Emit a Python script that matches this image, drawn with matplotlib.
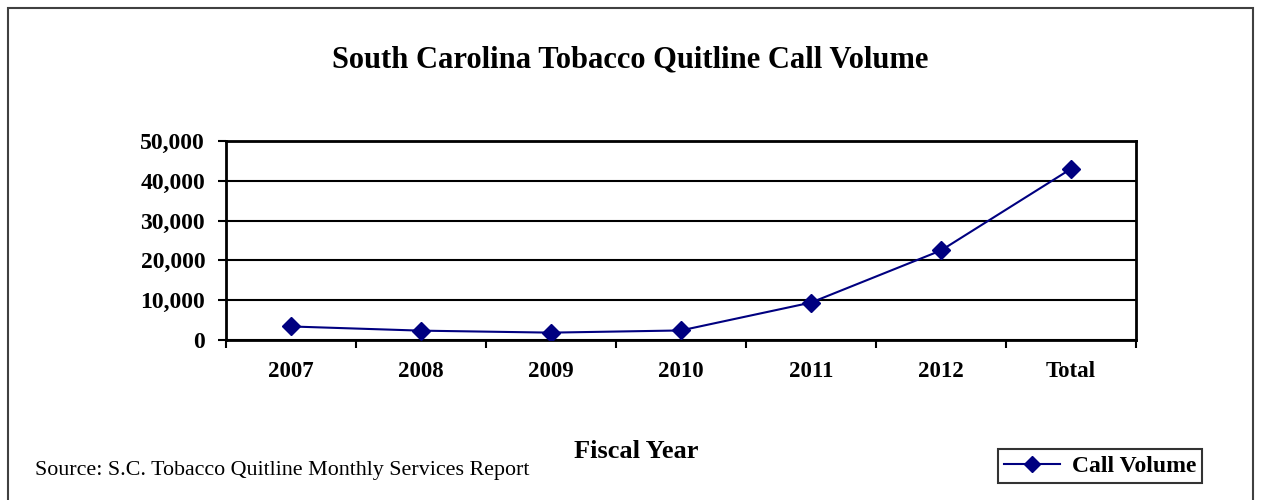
import matplotlib
matplotlib.use("Agg")
import matplotlib.pyplot as plt
from matplotlib.lines import Line2D
from matplotlib.patches import Rectangle
from matplotlib.ticker import FuncFormatter

categories = ["2007", "2008", "2009", "2010", "2011", "2012", "Total"]
call_volume = [3400, 2350, 1850, 2400, 9400, 22500, 43000]
y_ticks = [0, 10000, 20000, 30000, 40000, 50000]

W, H = 1263, 500
fig = plt.figure(figsize=(W / 100, H / 100), dpi=100)
fig.patch.set_facecolor("white")

serif = ["Liberation Serif", "DejaVu Serif"]
navy = "#000080"

# outer chart border
fig.patches.append(Rectangle((8 / W, -0.05), (1253 - 8) / W, 1.05 - 8 / H,
                             transform=fig.transFigure, fill=False,
                             edgecolor="#404040", linewidth=1.5))

left, right, top, bottom = 226, 1136, 141, 340
ax = fig.add_axes([left / W, 1 - bottom / H, (right - left) / W, (bottom - top) / H])

x = list(range(len(categories)))
ax.plot(x, call_volume, color=navy, linewidth=1.5, marker="D", markersize=9,
        markerfacecolor=navy, markeredgecolor=navy, zorder=3)

ax.set_xlim(-0.5, len(categories) - 0.5)
ax.set_ylim(0, 50000)
ax.set_yticks(y_ticks)
ax.yaxis.set_major_formatter(FuncFormatter(lambda v, p: f"{int(v):,}"))
ax.grid(axis="y", color="black", linewidth=1.5)
ax.set_axisbelow(True)

ax.set_xticks([i + 0.5 for i in range(-1, len(categories))])
ax.set_xticklabels([])
ax.set_xticks(x, minor=True)
ax.set_xticklabels(categories, minor=True)
ax.tick_params(axis="x", which="major", length=6, width=1.5, direction="out")
ax.tick_params(axis="x", which="minor", length=0, pad=15)
ax.tick_params(axis="y", length=6, width=1.5, direction="out", pad=9)
for lab in ax.get_xticklabels(minor=True):
    lab.set_fontfamily(serif)
    lab.set_fontweight("bold")
    lab.set_fontsize(16.5)
for lab in ax.get_yticklabels():
    lab.set_fontfamily(serif)
    lab.set_fontweight("bold")
    lab.set_fontsize(17)
for s in ax.spines.values():
    s.set_linewidth(2)

fig.text(630 / W, 1 - 60 / H, "South Carolina Tobacco Quitline Call Volume",
         ha="center", va="center", fontfamily=serif, fontweight="bold", fontsize=22)
fig.text(636 / W, 1 - 451 / H, "Fiscal Year", ha="center", va="center",
         fontfamily=serif, fontweight="bold", fontsize=19)
fig.text(35 / W, 1 - 471 / H, "Source: S.C. Tobacco Quitline Monthly Services Report",
         ha="left", va="center", fontfamily=serif, fontsize=15.8)

handle = Line2D([], [], color=navy, linewidth=1.5, marker="D", markersize=8,
                markerfacecolor=navy, markeredgecolor=navy)
leg = fig.legend([handle], ["Call Volume"], loc="center",
                 bbox_to_anchor=(1100 / W, 1 - 466 / H), frameon=True, fancybox=False,
                 edgecolor="black", handlelength=2.4, borderpad=0.25, handletextpad=0.5,
                 prop={"family": serif, "weight": "bold", "size": 17})
leg.get_frame().set_linewidth(1.5)

fig.savefig("out.png", dpi=100)
